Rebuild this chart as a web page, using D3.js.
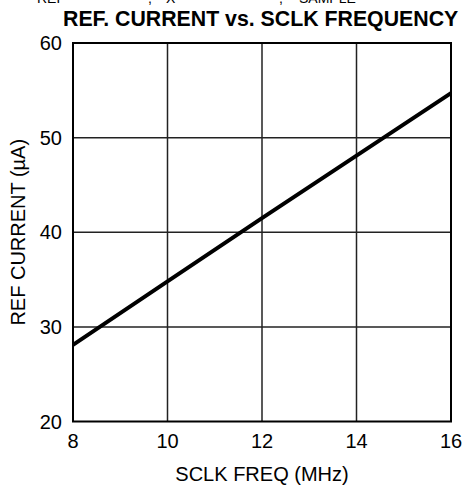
<!DOCTYPE html>
<html>
<head>
<meta charset="utf-8">
<script src="https://cdn.jsdelivr.net/npm/d3@7"></script>
<style>
body { margin: 0; background: #fff; }
svg { display: block; font-family: "Liberation Sans", Arial, sans-serif; }
</style>
</head>
<body>
<svg id="chart" width="464" height="487"></svg>
<script>
// data
let freqMHz = [8, 10, 12, 14, 16];
let refCurrent = [28.1, 34.8, 41.5, 48.1, 54.7];
let xTicks = [8, 10, 12, 14, 16];
let yTicks = [20, 30, 40, 50, 60];

let plotLeft = 73, plotRight = 451, plotTop = 43, plotBottom = 421.5;

let svg = d3.select("#chart");

let x = d3.scaleLinear().domain([8, 16]).range([plotLeft, plotRight]);
let y = d3.scaleLinear().domain([20, 60]).range([plotBottom, plotTop]);

// clipped caption line from the page above
let capt = svg.append("g").style("font-size", "14px").attr("fill", "#000");
capt.append("text").attr("x", 37).attr("y", 3).text("REF");
capt.append("text").attr("x", 148).attr("y", 3).text(",");
capt.append("text").attr("x", 166).attr("y", 3).text("X");
capt.append("text").attr("x", 279).attr("y", 3).text(",");
capt.append("text").attr("x", 299).attr("y", 3).text("SAMPLE");

// grid
svg.append("g")
	.selectAll("line")
	.data(xTicks.slice(1, -1))
	.enter().append("line")
	.attr("x1", function(d) { return x(d); })
	.attr("x2", function(d) { return x(d); })
	.attr("y1", plotTop)
	.attr("y2", plotBottom)
	.attr("stroke", "#222")
	.attr("stroke-width", 1.5);

svg.append("g")
	.selectAll("line")
	.data(yTicks.slice(1, -1))
	.enter().append("line")
	.attr("x1", plotLeft)
	.attr("x2", plotRight)
	.attr("y1", function(d) { return y(d); })
	.attr("y2", function(d) { return y(d); })
	.attr("stroke", "#222")
	.attr("stroke-width", 1.5);

// frame
svg.append("rect")
	.attr("x", plotLeft)
	.attr("y", plotTop)
	.attr("width", plotRight - plotLeft)
	.attr("height", plotBottom - plotTop)
	.attr("fill", "none")
	.attr("stroke", "#000")
	.attr("stroke-width", 2);

// the curve
let line = d3.line()
	.x(function(d, i) { return x(freqMHz[i]); })
	.y(function(d) { return y(d); });

svg.append("path")
	.datum(refCurrent)
	.attr("d", line)
	.attr("fill", "none")
	.attr("stroke", "#000")
	.attr("stroke-width", 4);

// tick labels
svg.append("g")
	.selectAll("text")
	.data(xTicks)
	.enter().append("text")
	.attr("x", function(d) { return x(d); })
	.attr("y", 448)
	.style("text-anchor", "middle")
	.style("font-size", "20px")
	.text(function(d) { return d; });

svg.append("g")
	.selectAll("text")
	.data(yTicks)
	.enter().append("text")
	.attr("x", 62)
	.attr("y", function(d) { return y(d) + 7; })
	.style("text-anchor", "end")
	.style("font-size", "20px")
	.text(function(d) { return d; });

// title
svg.append("text")
	.attr("x", 63)
	.attr("y", 26)
	.style("font-size", "21.3px")
	.style("font-weight", "bold")
	.text("REF. CURRENT vs. SCLK FREQUENCY");

// x-axis label
svg.append("text")
	.attr("x", (plotLeft + plotRight) / 2)
	.attr("y", 481)
	.style("text-anchor", "middle")
	.style("font-size", "20px")
	.text("SCLK FREQ (MHz)");

// y-axis label
svg.append("text")
	.attr("x", 0 - (plotTop + plotBottom) / 2)
	.attr("y", 25)
	.attr("transform", "rotate(-90)")
	.style("text-anchor", "middle")
	.style("font-size", "20px")
	.text("REF CURRENT (µA)");
</script>
</body>
</html>
